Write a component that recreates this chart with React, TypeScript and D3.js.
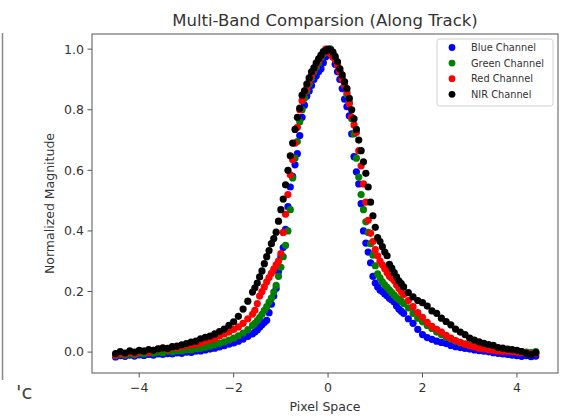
import React from "react";
import * as d3 from "d3";

const xTicks = [-4, -2, 0, 2, 4];
const xTickLabels = ["−4", "−2", "0", "2", "4"];
const yTicks = [0, 0.2, 0.4, 0.6, 0.8, 1.0];
const yTickLabels = ["0.0", "0.2", "0.4", "0.6", "0.8", "1.0"];

const seriesNames = ["Blue Channel", "Green Channel", "Red Channel", "NIR Channel"];
const seriesColors = ["#0000ff", "#008000", "#ff0000", "#000000"];

const xs = [
  -4.5, -4.4, -4.3, -4.2, -4.1, -4.0, -3.9, -3.8, -3.7, -3.6, -3.5, -3.4, -3.3, -3.2, -3.1, -3.0, -2.9, -2.8, -2.7, -2.6, -2.5, -2.4, -2.3, -2.2, -2.1, -2.0, -1.9, -1.8, -1.7,
  -1.6, -1.55, -1.5, -1.45, -1.4, -1.35, -1.3, -1.25, -1.2, -1.15, -1.1, -1.05, -1.0, -0.95, -0.9, -0.85, -0.8, -0.75, -0.7, -0.65, -0.6, -0.55, -0.5, -0.45, -0.4, -0.35, -0.3, -0.25, -0.2, -0.15, -0.1, -0.05,
  0, 0.05, 0.1, 0.15, 0.2, 0.25, 0.3, 0.35, 0.4, 0.45, 0.5, 0.55, 0.6, 0.65, 0.7, 0.75, 0.8, 0.85, 0.9, 0.95, 1.0, 1.05, 1.1, 1.15, 1.2, 1.25, 1.3, 1.35, 1.4, 1.45, 1.5, 1.55,
  1.6, 1.7, 1.8, 1.9, 2.0, 2.1, 2.2, 2.3, 2.4, 2.5, 2.6, 2.7, 2.8, 2.9, 3.0, 3.1, 3.2, 3.3, 3.4, 3.5, 3.6, 3.7, 3.8, 3.9, 4.0, 4.1, 4.2, 4.3, 4.4,
];

const blueY = [
  -0.016, -0.012, -0.014, -0.010, -0.013, -0.009, -0.011, -0.008, -0.010, -0.006, -0.008, -0.005, -0.006, -0.003, -0.004, 0.000, -0.001, 0.003, 0.004, 0.007, 0.010, 0.013, 0.017, 0.021, 0.026, 0.030, 0.036, 0.043, 0.052,
  0.060, 0.066, 0.073, 0.082, 0.090, 0.098, 0.105, 0.130, 0.158, 0.185, 0.210, 0.265, 0.315, 0.345, 0.405, 0.480, 0.545, 0.580, 0.618, 0.655, 0.715, 0.775, 0.815, 0.845, 0.862, 0.880, 0.900, 0.912, 0.925, 0.935, 0.955, 0.975,
  0.990, 1.000, 0.975, 0.950, 0.925, 0.900, 0.870, 0.835, 0.810, 0.780, 0.720, 0.645, 0.595, 0.555, 0.490, 0.400, 0.360, 0.330, 0.295, 0.250, 0.228, 0.215, 0.205, 0.200, 0.192, 0.186, 0.178, 0.172, 0.165, 0.152, 0.142, 0.135,
  0.128, 0.110, 0.095, 0.075, 0.058, 0.048, 0.042, 0.036, 0.032, 0.028, 0.022, 0.018, 0.015, 0.012, 0.010, 0.007, 0.005, 0.003, 0.001, -0.002, -0.004, -0.006, -0.008, -0.010, -0.012, -0.014, -0.012, -0.015, -0.013,
];

const greenY = [
  -0.012, -0.008, -0.010, -0.006, -0.009, -0.004, -0.006, -0.002, -0.004, 0.000, -0.002, 0.003, 0.001, 0.005, 0.004, 0.008, 0.007, 0.011, 0.012, 0.016, 0.020, 0.024, 0.029, 0.034, 0.040, 0.046, 0.054, 0.063, 0.074,
  0.088, 0.095, 0.104, 0.114, 0.125, 0.138, 0.150, 0.165, 0.178, 0.198, 0.220, 0.250, 0.280, 0.315, 0.352, 0.400, 0.470, 0.575, 0.640, 0.695, 0.760, 0.800, 0.838, 0.862, 0.885, 0.905, 0.925, 0.940, 0.955, 0.972, 0.985, 0.992,
  0.998, 1.000, 0.990, 0.970, 0.950, 0.928, 0.905, 0.880, 0.850, 0.825, 0.770, 0.720, 0.640, 0.578, 0.520, 0.470, 0.430, 0.395, 0.358, 0.320, 0.285, 0.258, 0.245, 0.232, 0.222, 0.214, 0.205, 0.196, 0.188, 0.180, 0.174, 0.168,
  0.160, 0.146, 0.128, 0.112, 0.100, 0.088, 0.078, 0.066, 0.058, 0.050, 0.043, 0.036, 0.031, 0.026, 0.023, 0.019, 0.017, 0.015, 0.014, 0.012, 0.013, 0.010, 0.008, 0.006, 0.004, 0.002, 0.000, -0.002, 0.002,
];

const redY = [
  -0.010, -0.004, -0.006, -0.001, -0.004, 0.001, 0.003, 0.000, 0.006, 0.010, 0.012, 0.009, 0.015, 0.014, 0.019, 0.021, 0.024, 0.026, 0.030, 0.036, 0.040, 0.045, 0.053, 0.060, 0.066, 0.075, 0.083, 0.095, 0.110,
  0.125, 0.138, 0.160, 0.185, 0.200, 0.215, 0.232, 0.246, 0.260, 0.274, 0.288, 0.300, 0.325, 0.395, 0.455, 0.520, 0.585, 0.635, 0.690, 0.742, 0.800, 0.830, 0.858, 0.872, 0.895, 0.915, 0.932, 0.950, 0.962, 0.978, 0.988, 1.000,
  0.994, 0.985, 0.975, 0.965, 0.945, 0.925, 0.900, 0.880, 0.858, 0.820, 0.776, 0.750, 0.725, 0.665, 0.615, 0.555, 0.495, 0.435, 0.392, 0.365, 0.338, 0.318, 0.300, 0.288, 0.275, 0.262, 0.250, 0.244, 0.236, 0.222, 0.210, 0.200,
  0.190, 0.170, 0.150, 0.130, 0.115, 0.098, 0.085, 0.075, 0.066, 0.055, 0.046, 0.038, 0.032, 0.026, 0.021, 0.017, 0.013, 0.010, 0.008, 0.006, 0.004, 0.003, 0.002, 0.001, 0.000, -0.002, -0.003, -0.005, -0.004,
];

const nirY = [
  -0.005, 0.002, -0.003, 0.004, 0.000, 0.006, 0.003, 0.008, 0.006, 0.011, 0.014, 0.012, 0.018, 0.020, 0.024, 0.028, 0.033, 0.036, 0.044, 0.049, 0.053, 0.060, 0.068, 0.076, 0.088, 0.100, 0.118, 0.142, 0.168,
  0.198, 0.212, 0.228, 0.248, 0.268, 0.292, 0.315, 0.335, 0.358, 0.375, 0.396, 0.432, 0.470, 0.505, 0.552, 0.600, 0.648, 0.690, 0.735, 0.775, 0.805, 0.848, 0.862, 0.885, 0.905, 0.925, 0.938, 0.955, 0.968, 0.980, 0.992, 0.995,
  1.000, 0.997, 0.990, 0.976, 0.958, 0.935, 0.915, 0.892, 0.870, 0.838, 0.800, 0.770, 0.735, 0.700, 0.665, 0.628, 0.590, 0.545, 0.495, 0.450, 0.412, 0.378, 0.365, 0.348, 0.330, 0.318, 0.290, 0.277, 0.262, 0.248, 0.235, 0.226,
  0.215, 0.196, 0.182, 0.170, 0.163, 0.152, 0.136, 0.128, 0.112, 0.101, 0.090, 0.076, 0.066, 0.058, 0.046, 0.040, 0.034, 0.029, 0.025, 0.022, 0.015, 0.013, 0.010, 0.008, 0.006, 0.002, -0.004, -0.008, -0.002,
];

const seriesValues = [blueY, greenY, redY, nirY];

const W = 574;
const H = 418;
const plotLeft = 92;
const plotRight = 558;
const plotTop = 34;
const plotBottom = 373;
const FONT = "'DejaVu Sans', 'Liberation Sans', sans-serif";

export default function App() {
  const x = d3.scaleLinear().domain([-5.0, 4.87]).range([plotLeft, plotRight]);
  const y = d3.scaleLinear().domain([-0.069, 1.05]).range([plotBottom, plotTop]);
  const cx = (plotLeft + plotRight) / 2;
  const cy = (plotTop + plotBottom) / 2;

  return (
    <svg
      width={W}
      height={H}
      style={{ position: "absolute", left: 0, top: 0, background: "#fff" }}
      fontFamily={FONT}
    >
      <rect x={0} y={0} width={W} height={H} fill="#fff" />
      {/* left-edge artifacts */}
      <line x1={2.5} x2={2.5} y1={33} y2={380} stroke="#888" strokeWidth={1.5} />
      <text x={16} y={399} fontSize={20} fill="#444">'c</text>

      {/* title */}
      <text x={cx} y={26} textAnchor="middle" fontSize={16.5} fill="#333">
        Multi-Band Comparsion (Along Track)
      </text>

      {/* scatter points */}
      {seriesValues.map((vals, si) => (
        <g key={si} fill={seriesColors[si]}>
          {vals.map((v, i) => (
            <circle key={i} cx={x(xs[i])} cy={y(v)} r={3.6} />
          ))}
        </g>
      ))}

      {/* axes frame */}
      <rect
        x={plotLeft}
        y={plotTop}
        width={plotRight - plotLeft}
        height={plotBottom - plotTop}
        fill="none"
        stroke="#555"
        strokeWidth={1}
      />

      {/* x ticks */}
      {xTicks.map((t, i) => (
        <g key={t}>
          <line x1={x(t)} x2={x(t)} y1={plotBottom} y2={plotBottom + 4.5} stroke="#555" />
          <text x={x(t)} y={plotBottom + 18.5} textAnchor="middle" fontSize={12.5} fill="#333">
            {xTickLabels[i]}
          </text>
        </g>
      ))}
      {/* y ticks */}
      {yTicks.map((t, i) => (
        <g key={t}>
          <line x1={plotLeft - 4.5} x2={plotLeft} y1={y(t)} y2={y(t)} stroke="#555" />
          <text x={plotLeft - 8} y={y(t)} dy="0.35em" textAnchor="end" fontSize={12.5} fill="#333">
            {yTickLabels[i]}
          </text>
        </g>
      ))}

      {/* axis labels */}
      <text x={cx} y={411} textAnchor="middle" fontSize={12.5} fill="#333">
        Pixel Space
      </text>
      <text
        transform={`translate(54, ${cy}) rotate(-90)`}
        textAnchor="middle"
        fontSize={12.5}
        fill="#333"
      >
        Normalized Magnitude
      </text>

      {/* legend */}
      <rect x={437} y={39} width={116} height={67} rx={2.5} fill="#fff" fillOpacity={0.8} stroke="#d0d0d0" />
      {seriesNames.map((name, i) => (
        <g key={name}>
          <circle cx={452} cy={47.5 + i * 15.6} r={3.4} fill={seriesColors[i]} />
          <text x={471} y={47.5 + i * 15.6} dy="0.35em" fontSize={9.8} fill="#333">
            {name}
          </text>
        </g>
      ))}
    </svg>
  );
}
